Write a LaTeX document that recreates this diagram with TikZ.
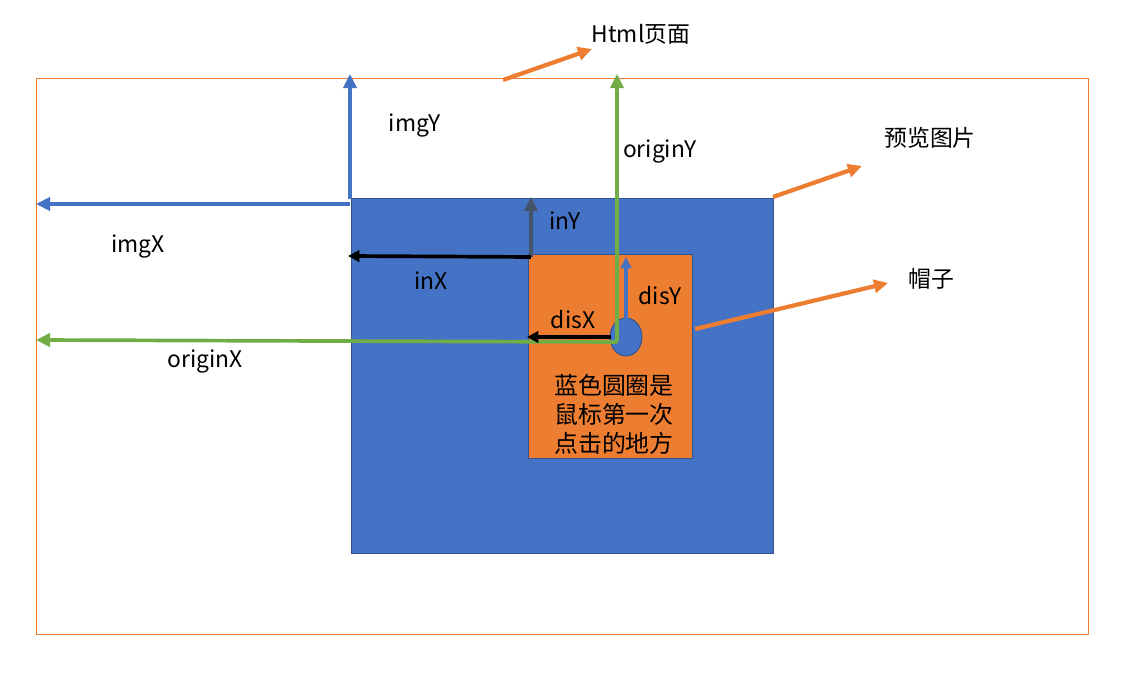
\documentclass[tikz,border=0pt]{standalone}
\usepackage{fontspec}
\setmainfont{Noto Sans CJK SC}
\usetikzlibrary{positioning, arrows.meta, calc, shapes.geometric}

\definecolor{pptorange}{HTML}{ED7D31}
\definecolor{pptblue}{HTML}{4472C4}
\definecolor{pptdarkblue}{HTML}{2F528F}
\definecolor{pptgreen}{HTML}{70AD47}
\definecolor{pptslate}{HTML}{44546A}

\tikzset{
    lbl/.style={font=\fontsize{13}{15}\selectfont, inner sep=0pt},
    vec/.style={line width=2.1pt, -{Triangle[length=8pt, width=7.5pt]}},
    pointer/.style={line width=2.4pt, pptorange, -{Triangle[length=8pt, width=7.5pt]}},
}

\begin{document}
\begin{tikzpicture}[x=0.02cm, y=-0.02cm]
        \useasboundingbox (0,0) rectangle (1128,695);

        % html page, image and hat
        \coordinate (page1) at (36,78);
        \coordinate (page2) at (1088,634);
        \coordinate (img1) at (351,198);
        \coordinate (img2) at (773,553);
        \coordinate (hat1) at (528,254);
        \coordinate (hat2) at (692,458);

        \draw[pptorange, line width=0.45pt] (page1) rectangle (page2);
        \draw[pptdarkblue, fill=pptblue, line width=0.5pt] (img1) rectangle (img2);
        \draw[pptdarkblue, fill=pptorange, line width=0.5pt] (hat1) rectangle (hat2);
        \node[draw=pptdarkblue, fill=pptblue, ellipse, line width=0.5pt, minimum width=0.64cm, minimum height=0.76cm, inner sep=0pt] (click) at (626,337) {};

        % end points
        \coordinate (imgYorg) at (350,199);
        \coordinate (imgYtop) at (350,74);
        \coordinate (imgXorg) at (350,204);
        \coordinate (imgXend) at (36,204);
        \coordinate (inorg) at (531,257);
        \coordinate (inYtop) at (531,197);
        \coordinate (inXend) at (348,256);
        \coordinate (origin) at (617,342);
        \coordinate (originYtop) at (617,74);
        \coordinate (originXend) at (36,340);
        \coordinate (disYorg) at (626,332);
        \coordinate (disYtop) at (626,257);
        \coordinate (disXorg) at (611,337);
        \coordinate (disXend) at (527,337);

        % img offsets
        \draw[vec, pptblue] (imgYorg) -- (imgYtop);
        \draw[vec, pptblue] (imgXorg) -- (imgXend);

        % offsets inside the image
        \draw[vec, pptslate] (inorg) -- (inYtop);
        \draw[vec, black, -{Triangle[length=6.5pt, width=6.5pt]}] (inorg) -- (inXend);

        % mouse origin
        \draw[vec, pptgreen] (origin) -- (originYtop);
        \draw[vec, pptgreen] (origin) -- (originXend);

        % offsets inside the hat
        \draw[vec, pptblue, line width=1.8pt, -{Triangle[length=6.5pt, width=6pt]}] (disYorg) -- (disYtop);
        \draw[vec, black, line width=2.3pt, -{Triangle[length=6.5pt, width=6.5pt]}] (disXorg) -- (disXend);

        % pointers to captions
        \coordinate (htmlfrom) at (503,80);
        \coordinate (htmlto) at (592,49);
        \coordinate (imgfrom) at (773,197);
        \coordinate (imgto) at (862,166);
        \coordinate (hatfrom) at (695,329);
        \coordinate (hatto) at (888,283);

        \draw[pointer] (htmlfrom) -- (htmlto);
        \draw[pointer] (imgfrom) -- (imgto);
        \draw[pointer] (hatfrom) -- (hatto);

        % labels
        \node[lbl] (htmlLabel) at (641,34) {Html页面};
        \node[lbl] (previewLabel) at (930,138) {预览图片};
        \node[lbl] (hatLabel) at (931,279) {帽子};
        \node[lbl] (imgYLabel) at (415,126) {imgY};
        \node[lbl] (imgXLabel) at (138,247) {imgX};
        \node[lbl] (originYLabel) at (660,152) {originY};
        \node[lbl] (originXLabel) at (205,362) {originX};
        \node[lbl] (inYLabel) at (565,221) {inY};
        \node[lbl] (inXLabel) at (431,281) {inX};
        \node[lbl] (disYLabel) at (660,296) {disY};
        \node[lbl] (disXLabel) at (573,320) {disX};
        \node[lbl, font=\fontsize{13.6}{16.5}\selectfont, align=center] (note) at (614,414) {蓝色圆圈是\\鼠标第一次\\点击的地方};
    \end{tikzpicture}
\end{document}
